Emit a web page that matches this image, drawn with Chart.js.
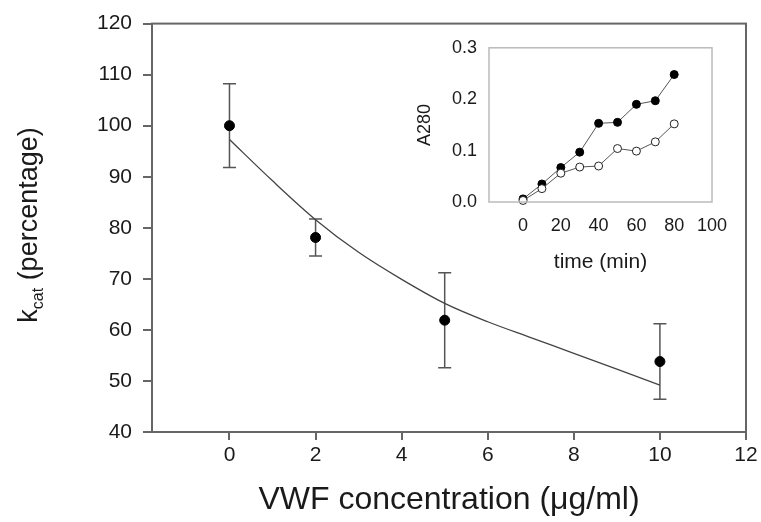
<!DOCTYPE html>
<html>
<head>
<meta charset="utf-8">
<script src="https://cdn.jsdelivr.net/npm/chart.js@4.4.1/dist/chart.umd.min.js"></script>
<style>
  html, body { margin: 0; padding: 0; background: #fff; }
  #wrap { position: relative; width: 761px; height: 522px; }
  #main { position: absolute; left: 0; top: 0; }
  #inset { position: absolute; left: 400px; top: 25px; }
</style>
</head>
<body>
<div id="wrap">
  <canvas id="main" width="761" height="522"></canvas>
  <canvas id="inset" width="345" height="260"></canvas>
</div>
<script>
// main plot data
var vwfConc = [0, 2, 5, 10];
var kcatPct = [100, 78.1, 61.9, 53.8];
var kcatErr = [8.2, 3.6, 9.3, 7.4];
var fitConc = [0, 1, 2, 3, 4, 5, 6, 7, 8, 9, 10];
var fitKcat = [97.3, 89.2, 81.6, 75.2, 69.9, 65.2, 61.6, 58.5, 55.4, 52.3, 49.2];
var mainXTicks = [0, 2, 4, 6, 8, 10, 12];
var mainYTicks = [40, 50, 60, 70, 80, 90, 100, 110, 120];

// inset data
var timeMin = [0, 10, 20, 30, 40, 50, 60, 70, 80];
var a280Filled = [0.006, 0.035, 0.067, 0.097, 0.153, 0.155, 0.190, 0.197, 0.248];
var a280Open = [0.003, 0.026, 0.056, 0.068, 0.070, 0.104, 0.099, 0.117, 0.152];
var insetXTicks = [0, 20, 40, 60, 80, 100];
var insetYTicks = [0, 0.1, 0.2, 0.3];

Chart.defaults.font.family = "'Liberation Sans', Arial, sans-serif";
Chart.defaults.color = '#1a1a1a';

function pts(xs, ys) {
  return xs.map(function (x, i) { return { x: x, y: ys[i] }; });
}

var errorBars = {
  id: 'errorBars',
  beforeDatasetsDraw: function (chart) {
    var ctx = chart.ctx, xs = chart.scales.x, ys = chart.scales.y;
    ctx.save();
    ctx.strokeStyle = '#555';
    ctx.lineWidth = 1.5;
    for (var i = 0; i < vwfConc.length; i++) {
      var px = xs.getPixelForValue(vwfConc[i]);
      var top = ys.getPixelForValue(kcatPct[i] + kcatErr[i]);
      var bot = ys.getPixelForValue(kcatPct[i] - kcatErr[i]);
      ctx.beginPath();
      ctx.moveTo(px, top); ctx.lineTo(px, bot);
      ctx.moveTo(px - 6.5, top); ctx.lineTo(px + 6.5, top);
      ctx.moveTo(px - 6.5, bot); ctx.lineTo(px + 6.5, bot);
      ctx.stroke();
    }
    ctx.restore();
  }
};

function framePlugin(color, width) {
  return {
    id: 'frame',
    afterDraw: function (chart) {
      var a = chart.chartArea, ctx = chart.ctx;
      ctx.save();
      ctx.strokeStyle = color;
      ctx.lineWidth = width;
      ctx.strokeRect(a.left, a.top, a.right - a.left, a.bottom - a.top);
      ctx.restore();
    }
  };
}

// y title with subscript "cat"
var kcatTitle = {
  id: 'kcatTitle',
  afterDraw: function (chart) {
    var ctx = chart.ctx;
    var big = "27px 'Liberation Sans', Arial, sans-serif";
    var small = "16px 'Liberation Sans', Arial, sans-serif";
    ctx.save();
    ctx.fillStyle = '#1a1a1a';
    ctx.textBaseline = 'alphabetic';
    ctx.font = big;
    var wk = ctx.measureText('k').width;
    var wr = ctx.measureText(' (percentage)').width;
    ctx.font = small;
    var ws = ctx.measureText('cat').width;
    var total = wk + ws + wr;
    ctx.translate(37, 225);
    ctx.rotate(-Math.PI / 2);
    var x0 = -total / 2;
    ctx.font = big;
    ctx.fillText('k', x0, 0);
    ctx.font = small;
    ctx.fillText('cat', x0 + wk, 6);
    ctx.font = big;
    ctx.fillText(' (percentage)', x0 + wk + ws, 0);
    ctx.restore();
  }
};

new Chart(document.getElementById('main'), {
  type: 'scatter',
  data: {
    datasets: [
      {
        data: pts(vwfConc, kcatPct),
        pointRadius: 5,
        pointBackgroundColor: '#000',
        pointBorderColor: '#000',
        showLine: false,
        clip: false
      },
      {
        data: pts(fitConc, fitKcat),
        showLine: true,
        pointRadius: 0,
        borderColor: '#444',
        borderWidth: 1.3,
        cubicInterpolationMode: 'monotone',
        fill: false
      }
    ]
  },
  options: {
    responsive: false,
    animation: false,
    devicePixelRatio: 1,
    layout: { padding: { left: 0, top: 16, right: 15, bottom: 0 } },
    plugins: { legend: { display: false }, tooltip: { enabled: false } },
    scales: {
      x: {
        type: 'linear',
        min: -1.8,
        max: 12,
        afterBuildTicks: function (s) { s.ticks = mainXTicks.map(function (v) { return { value: v }; }); },
        afterFit: function (s) { s.height = 90; },
        ticks: { font: { size: 21 }, color: '#1a1a1a', padding: 3, maxRotation: 0, autoSkip: false },
        grid: { drawOnChartArea: false, tickLength: 8, color: '#666', lineWidth: 2 },
        border: { color: '#666', width: 2 },
        title: {
          display: true,
          text: 'VWF concentration (μg/ml)',
          font: { size: 32 },
          color: '#1a1a1a',
          padding: { top: 0, bottom: 3 }
        }
      },
      y: {
        type: 'linear',
        min: 40,
        max: 120,
        afterBuildTicks: function (s) { s.ticks = mainYTicks.map(function (v) { return { value: v }; }); },
        afterFit: function (s) { s.width = 152; },
        ticks: { font: { size: 21 }, color: '#1a1a1a', padding: 11 },
        grid: { drawOnChartArea: false, tickLength: 9, color: '#666', lineWidth: 2 },
        border: { color: '#666', width: 2 }
      }
    }
  },
  plugins: [errorBars, framePlugin('#666', 2), kcatTitle]
});

new Chart(document.getElementById('inset'), {
  type: 'scatter',
  data: {
    datasets: [
      {
        data: pts(timeMin, a280Open),
        showLine: true,
        borderColor: '#555',
        borderWidth: 1,
        pointRadius: 4,
        pointBackgroundColor: '#fff',
        pointBorderColor: '#222',
        pointBorderWidth: 1,
        clip: false
      },
      {
        data: pts(timeMin, a280Filled),
        showLine: true,
        borderColor: '#555',
        borderWidth: 1,
        pointRadius: 4,
        pointBackgroundColor: '#000',
        pointBorderColor: '#000',
        pointBorderWidth: 1,
        clip: false
      }
    ]
  },
  options: {
    responsive: false,
    animation: false,
    devicePixelRatio: 1,
    layout: { padding: { left: 0, top: 20, right: 33, bottom: 0 } },
    plugins: { legend: { display: false }, tooltip: { enabled: false } },
    scales: {
      x: {
        type: 'linear',
        min: -18,
        max: 100,
        afterBuildTicks: function (s) { s.ticks = insetXTicks.map(function (v) { return { value: v }; }); },
        afterFit: function (s) { s.height = 83; },
        ticks: { font: { size: 18 }, color: '#1a1a1a', padding: 13, maxRotation: 0, autoSkip: false },
        grid: { display: false, drawTicks: false },
        border: { display: false },
        title: {
          display: true,
          text: 'time (min)',
          font: { size: 21 },
          color: '#1a1a1a',
          padding: { top: 0, bottom: 10 }
        }
      },
      y: {
        type: 'linear',
        min: 0,
        max: 0.3,
        afterBuildTicks: function (s) { s.ticks = insetYTicks.map(function (v) { return { value: v }; }); },
        afterFit: function (s) { s.width = 89; },
        ticks: {
          font: { size: 18 },
          color: '#1a1a1a',
          padding: 12,
          callback: function (v) { return v.toFixed(1); }
        },
        grid: { display: false, drawTicks: false },
        border: { display: false },
        title: {
          display: true,
          text: 'A280',
          font: { size: 18 },
          color: '#1a1a1a',
          padding: { top: 14, bottom: 0 }
        }
      }
    }
  },
  plugins: [framePlugin('#bbb', 1.5)]
});
</script>
</body>
</html>
